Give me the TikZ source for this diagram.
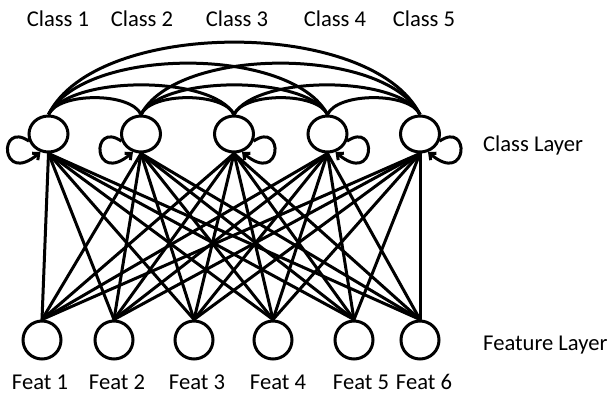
\documentclass[tikz,border=0pt]{standalone}
\usepackage{fontspec}
\setmainfont{Carlito}
\usetikzlibrary{arrows.meta,shapes.geometric}
\begin{document}
\begin{tikzpicture}[x=1pt,y=-1pt,
  lw/.style={line width=3pt},
  cnode/.style={draw,ellipse,line width=3pt,minimum width=39pt,minimum height=36pt,inner sep=0pt},
  fnode/.style={draw,ellipse,line width=3pt,minimum width=38pt,minimum height=38pt,inner sep=0pt},
  lbl/.style={font=\fontsize{22.6}{26}\selectfont,inner sep=0pt},
  arc/.style={line width=3pt},
  loopr/.style={line width=3pt,-{Straight Barb[length=5pt,width=9pt]}}]
\useasboundingbox (0,0) rectangle (614,394);
% class nodes
\node[cnode] (c1) at (48.5,134) {};
\node[cnode] (c2) at (141,134) {};
\node[cnode] (c3) at (234,134) {};
\node[cnode] (c4) at (327.5,134) {};
\node[cnode] (c5) at (420,134) {};
% feature nodes
\node[fnode] (f1) at (42,340) {};
\node[fnode] (f2) at (114,340) {};
\node[fnode] (f3) at (194,340) {};
\node[fnode] (f4) at (273,340) {};
\node[fnode] (f5) at (354,340) {};
\node[fnode] (f6) at (420,340) {};
% labels
\node[lbl] (lc1) at (58,19) {Class 1};
\node[lbl] (lc2) at (142,19) {Class 2};
\node[lbl] (lc3) at (237,19) {Class 3};
\node[lbl] (lc4) at (335,19) {Class 4};
\node[lbl] (lc5) at (424,19) {Class 5};
\node[lbl] (lf1) at (40,382) {Feat 1};
\node[lbl] (lf2) at (117,382) {Feat 2};
\node[lbl] (lf3) at (197,382) {Feat 3};
\node[lbl] (lf4) at (278,382) {Feat 4};
\node[lbl] (lf5) at (361,382) {Feat 5};
\node[lbl] (lf6) at (424,382) {Feat 6};
\node[lbl,anchor=west] (lcl) at (483,145) {Class Layer};
\node[lbl,anchor=west] (lfl) at (483,345) {Feature Layer};
% bipartite edges
\foreach \i in {1,...,5}{
  \foreach \j in {1,...,6}{
    \draw[lw,line cap=round] (c\i.south) -- (f\j.north);
  }
}
% arcs between classes
\foreach \a/\b/\cy/\off in {1/2/92/10, 2/3/92/10, 3/4/92/10, 4/5/92/10,
                            1/3/75/22, 2/4/75/22, 3/5/75/22,
                            1/4/46/36, 2/5/46/36,
                            1/5/18/48}{
  \draw[arc] (c\a.north) .. controls ([xshift=\off pt]c\a.north |- 0,\cy) and ([xshift=-\off pt]c\b.north |- 0,\cy) .. (c\b.north);
}
% self loops
\draw[loopr] (c1.200) .. controls (-2,120) and (0,186) .. (c1.246);
\draw[loopr] (c2.200) .. controls ([xshift=-50.5pt]c2.center |- 0,120) and ([xshift=-48.5pt]c2.center |- 0,186) .. (c2.246);
\draw[loopr] (c3.-20) .. controls ([xshift=50.5pt]c3.center |- 0,120) and ([xshift=48.5pt]c3.center |- 0,186) .. (c3.-66);
\draw[loopr] (c4.-20) .. controls ([xshift=50.5pt]c4.center |- 0,120) and ([xshift=48.5pt]c4.center |- 0,186) .. (c4.-66);
\draw[loopr] (c5.-20) .. controls ([xshift=50.5pt]c5.center |- 0,120) and ([xshift=48.5pt]c5.center |- 0,186) .. (c5.-66);
\end{tikzpicture}
\end{document}
